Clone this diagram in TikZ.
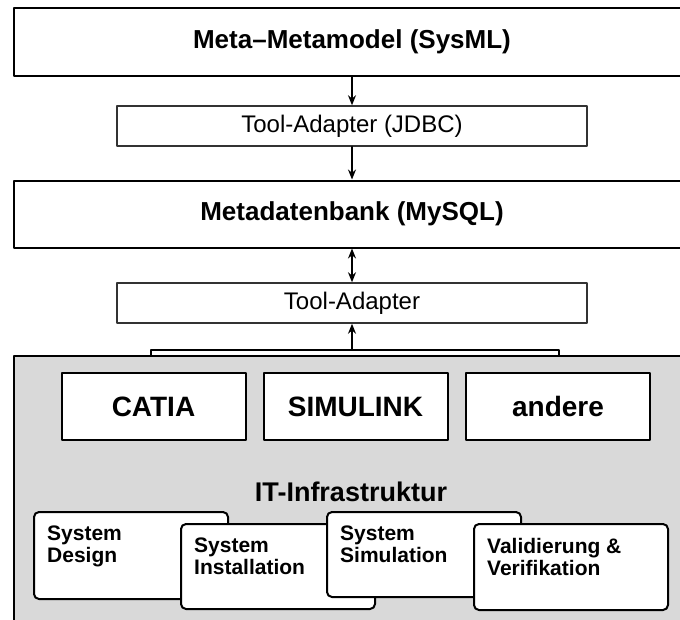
\documentclass[tikz,border=0pt]{standalone}
\usepackage{fontspec}
\setmainfont{Liberation Sans}
\usetikzlibrary{arrows.meta, positioning}

\tikzset{
    bigbox/.style={draw=black, line width=2pt, fill=white, minimum width=676pt, font=\bfseries\fontsize{26}{30}\selectfont},
    adapter/.style={draw=black!80, line width=1.5pt, fill=white, minimum width=470pt, minimum height=40pt, font=\fontsize{24}{28}\selectfont},
    toolbox/.style={draw=black, line width=2pt, fill=white, minimum width=184pt, minimum height=67pt, font=\bfseries\fontsize{28}{32}\selectfont},
    phase/.style={draw=black, line width=2pt, fill=white, rounded corners=5pt, minimum width=194pt, minimum height=86pt},
    phasetext/.style={anchor=north west, align=left, inner sep=0pt, font=\bfseries\fontsize{21}{22}\selectfont},
    conn/.style={line width=1.5pt, -{Stealth[length=10pt,width=8pt]}},
}

\begin{document}
\begin{tikzpicture}[line cap=round,line join=round,x=1pt,y=-1pt]
    \clip (0,0) rectangle (680,619);

    % model levels
    \node[bigbox, minimum height=68pt] (meta) at (352,42) {Meta--Metamodel (SysML)};
    \node[adapter] (jdbc) at (352,126) {Tool-Adapter (JDBC)};
    \node[bigbox, minimum height=67pt] (db) at (352,214) {Metadatenbank (MySQL)};
    \node[adapter] (adapter) at (352,303) {Tool-Adapter};

    % infrastructure area
    \draw[line width=2pt, fill=black!15] (14,356) rectangle (700,640);
    \coordinate (bl) at (151,356);
    \coordinate (br) at (559,356);
    \coordinate (bm) at (352,350);
    \draw[line width=1.5pt] (bl) |- (bm) -| (br);

    \draw[conn] (meta) -- (jdbc);
    \draw[conn] (jdbc) -- (db);
    \draw[line width=1.5pt, {Stealth[length=10pt,width=8pt]}-{Stealth[length=10pt,width=8pt]}] (db) -- (adapter);
    \draw[conn] (bm) -- (adapter);

    \node[toolbox] (catia) at (153.5,406.5) {CATIA};
    \node[toolbox] (simulink) at (355.5,406.5) {SIMULINK};
    \node[toolbox] (andere) at (558,406.5) {andere};

    \node[font=\bfseries\fontsize{27}{30}\selectfont] (infra) at (351,492) {IT-Infrastruktur};

    % phases
    \node[phase, minimum height=87pt] (design) at (131,555.5) {};
    \node[phasetext] (designtxt) at ([xshift=14pt,yshift=-15pt]design.north west) {System\\Design};
    \node[phase, minimum height=85pt] (install) at (278,566.5) {};
    \node[phasetext] (installtxt) at ([xshift=14pt,yshift=-15pt]install.north west) {System\\Installation};
    \node[phase, minimum height=85pt] (simu) at (424,554.5) {};
    \node[phasetext] (simutxt) at ([xshift=14pt,yshift=-15pt]simu.north west) {System\\Simulation};
    \node[phase, minimum height=86pt] (valid) at (571,567) {};
    \node[phasetext] (validtxt) at ([xshift=14pt,yshift=-15pt]valid.north west) {Validierung \&\\Verifikation};

\end{tikzpicture}
\end{document}
